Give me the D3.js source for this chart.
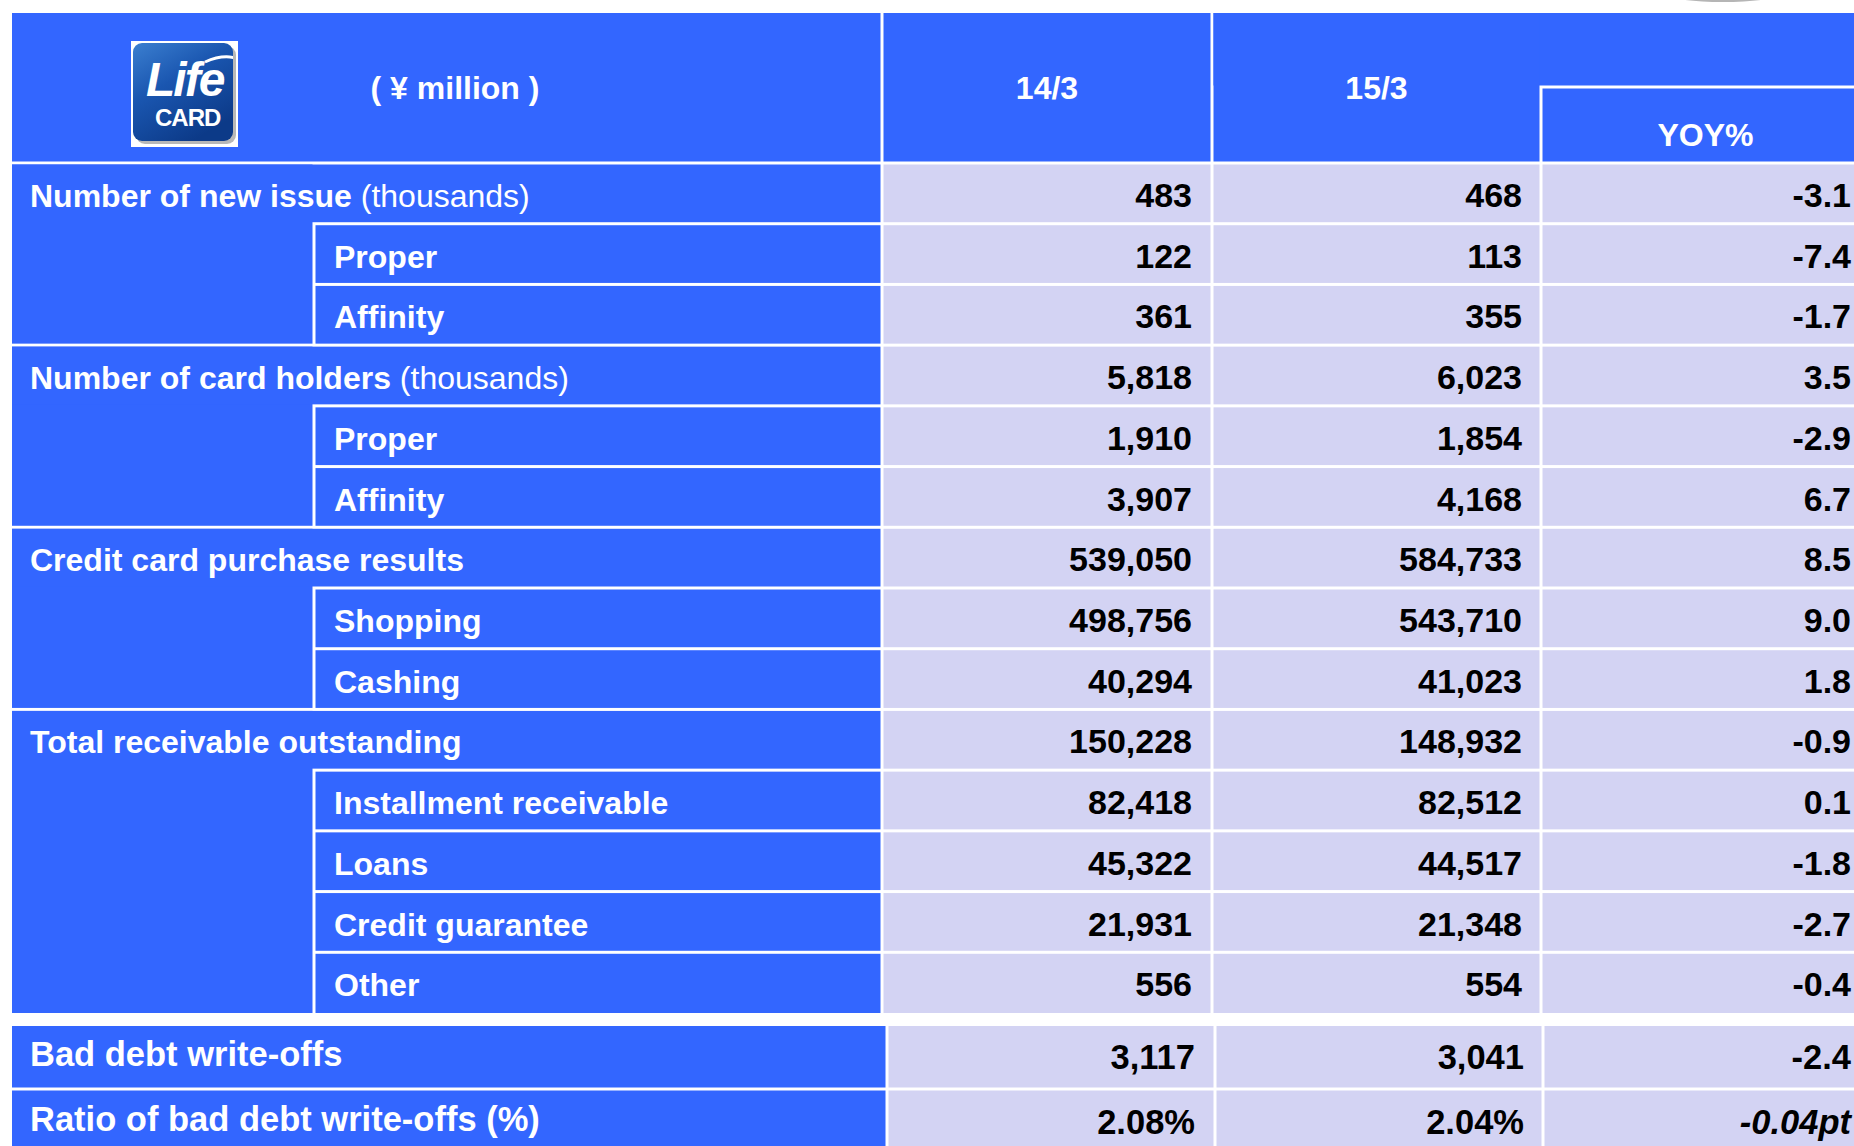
<!DOCTYPE html>
<html>
<head>
<meta charset="utf-8">
<script src="https://cdn.jsdelivr.net/npm/d3@7"></script>
<style>
  html, body { margin: 0; padding: 0; background: #ffffff; }
  svg { display: block; }
  text { font-family: "Liberation Sans", Arial, sans-serif; }
</style>
</head>
<body>
<svg id="chart" width="1854" height="1146"></svg>
<script>
// ---------- data ----------
const headerLabels = ["( ¥ million )", "14/3", "15/3", "YOY%"];
const rowLabels = [
  "Number of new issue", "Proper", "Affinity",
  "Number of card holders", "Proper", "Affinity",
  "Credit card purchase results", "Shopping", "Cashing",
  "Total receivable outstanding", "Installment receivable", "Loans", "Credit guarantee", "Other"
];
const rowNotes = ["(thousands)", "", "", "(thousands)", "", "", "", "", "", "", "", "", "", ""];
const rowLevels = [0, 1, 1, 0, 1, 1, 0, 1, 1, 0, 1, 1, 1, 1];
const values14 = [483, 122, 361, 5818, 1910, 3907, 539050, 498756, 40294, 150228, 82418, 45322, 21931, 556];
const values15 = [468, 113, 355, 6023, 1854, 4168, 584733, 543710, 41023, 148932, 82512, 44517, 21348, 554];
const yoyValues = [-3.1, -7.4, -1.7, 3.5, -2.9, 6.7, 8.5, 9.0, 1.8, -0.9, 0.1, -1.8, -2.7, -0.4];

const badDebtLabels = ["Bad debt write-offs", "Ratio of bad debt write-offs (%)"];
const badDebt14 = [3117, 2.08];
const badDebt15 = [3041, 2.04];
const badDebtYoy = [-2.4, -0.04];
const badDebtKinds = ["amount", "ratio"];

// ---------- style ----------
const BLUE = "#3366FF";
const LAV = "#D3D3F3";
const LINE = 1.5; // half of white grid line width

const loc = d3.formatLocale({decimal: ".", thousands: ",", grouping: [3], currency: ["", ""], minus: "-"});
const fmtInt = loc.format(",");
const fmt1 = loc.format(".1f");
const fmt2 = loc.format(".2f");

const svg = d3.select("#chart");

// scales
const xCol = d3.scaleLinear().domain([0, 1, 2, 3, 4]).range([12, 882, 1212, 1541, 1870]);
const xSub = 314;
const yHead = d3.scaleLinear().domain([0, 1, 2]).range([13, 87, 163]);
const yRow = d3.scaleBand().domain(d3.range(rowLabels.length)).range([163, 1013]);
const xColL = d3.scaleLinear().domain([0, 1, 2, 3, 4]).range([12, 887, 1215, 1543, 1870]);
const yRowL = d3.scaleBand().domain(d3.range(badDebtLabels.length)).range([1026, 1152]);

function cell(g, x0, y0, x1, y1, fill, insets) {
  const [l, t, r, b] = insets || [LINE, LINE, LINE, LINE];
  g.append("rect")
    .attr("x", x0 + l).attr("y", y0 + t)
    .attr("width", Math.max(0, x1 - x0 - l - r))
    .attr("height", Math.max(0, y1 - y0 - t - b))
    .attr("fill", fill);
}

// small grey object peeking at top
svg.append("ellipse").attr("cx", 1723).attr("cy", -5).attr("rx", 54).attr("ry", 7)
  .attr("fill", "#b5b5b5");

const grid = svg.append("g");

// ---------- header ----------
cell(grid, xCol(0), yHead(0), xCol(1), yHead(2), BLUE, [0, 0, LINE, LINE]);
cell(grid, xCol(1), yHead(0), xCol(2), yHead(2), BLUE, [LINE, 0, LINE, LINE]);
cell(grid, xCol(2), yHead(0), xCol(4), yHead(1), BLUE, [LINE, 0, 0, LINE]);
cell(grid, xCol(2), yHead(0), xCol(3), yHead(2), BLUE, [LINE, 0, LINE, LINE]);
cell(grid, xCol(3), yHead(1), xCol(4), yHead(2), BLUE, [LINE, LINE, 0, LINE]);

const headText = svg.append("g").attr("fill", "#ffffff").attr("font-weight", "bold")
  .attr("font-size", 32).attr("text-anchor", "middle");
headText.append("text").attr("x", 455).attr("y", 99).text(headerLabels[0]);
headText.append("text").attr("x", (xCol(1) + xCol(2)) / 2).attr("y", 99).text(headerLabels[1]);
headText.append("text").attr("x", (xCol(2) + xCol(3)) / 2).attr("y", 99).text(headerLabels[2]);
headText.append("text").attr("x", (xCol(3) + xCol(4)) / 2).attr("y", 146).text(headerLabels[3]);

// ---------- logo ----------
const logo = svg.append("g");
const defs = svg.append("defs");
const grad = defs.append("linearGradient").attr("id", "logoGrad")
  .attr("x1", 0).attr("y1", 0).attr("x2", 0.6).attr("y2", 1);
grad.append("stop").attr("offset", 0).attr("stop-color", "#3b7fd0");
grad.append("stop").attr("offset", 0.45).attr("stop-color", "#1a56b0");
grad.append("stop").attr("offset", 1).attr("stop-color", "#0c3a88");
defs.append("clipPath").attr("id", "logoClip").append("rect")
  .attr("x", 133).attr("y", 43).attr("width", 100).attr("height", 98).attr("rx", 9);
logo.append("rect").attr("x", 131).attr("y", 41).attr("width", 107).attr("height", 106).attr("fill", "#ffffff");
logo.append("rect").attr("x", 136).attr("y", 46).attr("width", 100).attr("height", 98).attr("rx", 9)
  .attr("fill", "#9a9a9a").attr("opacity", 0.7);
logo.append("rect").attr("x", 133).attr("y", 43).attr("width", 100).attr("height", 98).attr("rx", 9)
  .attr("fill", "url(#logoGrad)");
const logoIn = logo.append("g").attr("clip-path", "url(#logoClip)");
logoIn.append("path").attr("d", "M 205 62 Q 232 50 250 66")
  .attr("fill", "none").attr("stroke", "#ffffff").attr("stroke-width", 3);
logoIn.append("text").attr("x", 146).attr("y", 96).attr("fill", "#ffffff")
  .attr("font-style", "italic").attr("font-size", 48).attr("font-weight", "bold")
  .attr("letter-spacing", -2).text("Life");
logoIn.append("text").attr("x", 155).attr("y", 126).attr("fill", "#ffffff")
  .attr("font-size", 24).attr("font-weight", "bold").attr("letter-spacing", -1).text("CARD");

// ---------- body rows ----------
const groupStarts = rowLevels.map((l, i) => l === 0 ? i : -1).filter(i => i >= 0);
groupStarts.forEach((s, gi) => {
  const e = gi + 1 < groupStarts.length ? groupStarts[gi + 1] : rowLabels.length;
  const top = yRow(s), bottom = yRow(e - 1) + yRow.bandwidth();
  const lastInsetB = bottom >= 1012 ? 0 : LINE;
  cell(grid, xCol(0), top, xSub, bottom, BLUE, [0, LINE, LINE, lastInsetB]);
  cell(grid, xCol(0), top, xCol(1), yRow(s) + yRow.bandwidth(), BLUE, [0, LINE, LINE, LINE]);
  for (let i = s + 1; i < e; i++) {
    cell(grid, xSub, yRow(i), xCol(1), yRow(i) + yRow.bandwidth(), BLUE, [LINE, LINE, LINE, i === rowLabels.length - 1 ? 0 : LINE]);
  }
});
d3.range(rowLabels.length).forEach(i => {
  const bInset = i === rowLabels.length - 1 ? 0 : LINE;
  for (let c = 1; c <= 3; c++) {
    cell(grid, xCol(c), yRow(i), xCol(c + 1), yRow(i) + yRow.bandwidth(), LAV, [LINE, LINE, c === 3 ? 0 : LINE, bInset]);
  }
});

const rows = svg.append("g").selectAll("g.row")
  .data(rowLabels.map((label, i) => ({
    label, note: rowNotes[i], level: rowLevels[i],
    v14: values14[i], v15: values15[i], yoy: yoyValues[i], i
  })))
  .join("g").attr("class", "row")
  .attr("transform", d => `translate(0,${yRow(d.i)})`);

const lbl = rows.append("text")
  .attr("x", d => d.level === 0 ? 30 : 334)
  .attr("y", 44)
  .attr("fill", "#ffffff").attr("font-size", 32);
lbl.append("tspan").attr("font-weight", "bold").text(d => d.label);
lbl.filter(d => d.note).append("tspan").attr("font-weight", "normal").text(d => " " + d.note);

const valG = rows.append("g").attr("font-size", 34).attr("font-weight", "bold")
  .attr("fill", "#000000").attr("text-anchor", "end");
valG.append("text").attr("x", xCol(2) - 20).attr("y", 44).text(d => fmtInt(d.v14));
valG.append("text").attr("x", xCol(3) - 19).attr("y", 44).text(d => fmtInt(d.v15));
valG.append("text").attr("x", 1851).attr("y", 44).text(d => fmt1(d.yoy));

// ---------- bad debt rows ----------
d3.range(badDebtLabels.length).forEach(i => {
  const t = yRowL(i), b = t + yRowL.bandwidth();
  cell(grid, xColL(0), t, xColL(1), b, BLUE, [0, i === 0 ? 0 : LINE, LINE, i === 0 ? LINE : 0]);
  for (let c = 1; c <= 3; c++) {
    cell(grid, xColL(c), t, xColL(c + 1), b, LAV, [LINE, i === 0 ? 0 : LINE, c === 3 ? 0 : LINE, i === 0 ? LINE : 0]);
  }
});

const lrows = svg.append("g").selectAll("g.lrow")
  .data(badDebtLabels.map((label, i) => ({
    label, kind: badDebtKinds[i], v14: badDebt14[i], v15: badDebt15[i], yoy: badDebtYoy[i], i
  })))
  .join("g").attr("class", "lrow")
  .attr("transform", d => `translate(0,${yRowL(d.i)})`);

lrows.append("text").attr("x", 30).attr("y", d => d.i === 0 ? 40 : 42)
  .attr("fill", "#ffffff").attr("font-size", 34.5).attr("font-weight", "bold").text(d => d.label);

const lval = lrows.append("g").attr("font-size", 34.5).attr("font-weight", "bold")
  .attr("fill", "#000000").attr("text-anchor", "end");
lval.append("text").attr("x", xColL(2) - 20).attr("y", d => d.i === 0 ? 43 : 45)
  .text(d => d.kind === "ratio" ? fmt2(d.v14) + "%" : fmtInt(d.v14));
lval.append("text").attr("x", xColL(3) - 19).attr("y", d => d.i === 0 ? 43 : 45)
  .text(d => d.kind === "ratio" ? fmt2(d.v15) + "%" : fmtInt(d.v15));
lval.append("text").attr("x", 1851).attr("y", d => d.i === 0 ? 43 : 45)
  .attr("font-style", d => d.kind === "ratio" ? "italic" : "normal")
  .text(d => d.kind === "ratio" ? fmt2(d.yoy) + "pt" : fmt1(d.yoy));
</script>
</body>
</html>
